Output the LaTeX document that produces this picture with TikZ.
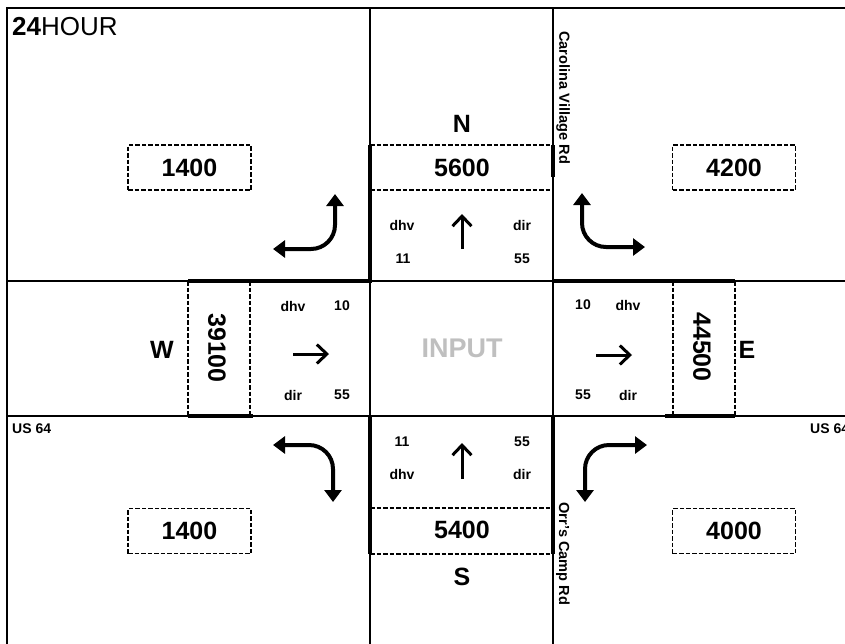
\documentclass[tikz,border=0pt]{standalone}
\usepackage{fontspec}
\setmainfont{Liberation Sans}
\usetikzlibrary{arrows.meta}

\begin{document}
\begin{tikzpicture}[
	x=1pt, y=-1pt,
	c_grid/.style={
		black,
		line width=1.2pt
	},
	c_curb/.style={
		black,
		line width=3.6pt
	},
	c_dash/.style={
		black,
		line width=1.4pt,
		dash pattern=on 4.5pt off 2pt
	},
	c_dot/.style={
		black,
		line width=2pt,
		dash pattern=on 2pt off 1.4pt
	},
	c_box/.style={
		c_dash,
		draw,
		minimum width=123pt,
		minimum height=45pt,
		font=\fontsize{25}{25}\selectfont\bfseries
	},
	c_turn/.style={
		black,
		line width=4pt,
		rounded corners=24pt,
		arrows={Triangle[width=17pt,length=12pt]-Triangle[width=17pt,length=12pt]}
	},
	c_thru/.style={
		black,
		line width=3pt,
		-{Straight Barb[length=10pt,width=19pt]}
	},
	c_big/.style={
		inner sep=0pt,
		font=\fontsize{25}{25}\selectfont\bfseries
	},
	c_text/.style={
		inner sep=0pt,
		font=\fontsize{14}{14}\selectfont\bfseries
	},
	c_road/.style={
		inner sep=0pt,
		font=\fontsize{14.6}{14.6}\selectfont\bfseries,
		rotate=-90,
		anchor=west
	}
	]
	
	\useasboundingbox (0,0) rectangle (845,643);
	\clip (0,0) rectangle (845,643);
	
	% =========================================================================
	% GRID
	% =========================================================================
	
	\draw[c_grid] (7,660) -- (7,8) -- (860,8);
	\draw[c_grid] (370,8) -- (370,660);
	\draw[c_grid] (553,8) -- (553,660);
	\draw[c_grid] (7,281) -- (860,281);
	\draw[c_grid] (7,416) -- (860,416);
	
	% =========================================================================
	% CURBS
	% =========================================================================
	
	\draw[c_curb] (188,281) -- (370,281) -- (370,145);
	\draw[c_curb] (553,145) -- (553,177);
	\draw[c_curb,line width=2.2pt] (553,177) -- (553,281);
	\draw[c_curb] (553,281) -- (735,281);
	
	\draw[c_curb] (188,416) -- (253,416);
	\draw[c_curb,line width=2.2pt] (253,416) -- (370,416);
	\draw[c_curb] (370,416) -- (370,554);
	
	\draw[c_curb,line width=2.2pt] (553,416) -- (665,416);
	\draw[c_curb] (665,416) -- (735,416);
	\draw[c_curb] (553,416) -- (553,554);
	
	% =========================================================================
	% APPROACH BOXES
	% =========================================================================
	
	% North
	\draw[c_dash] (370,145) -- (553,145);
	\draw[c_dash] (370,190) -- (553,190);
	
	% South
	\draw[c_dash] (370,508) -- (553,508);
	\draw[c_dash] (370,554) -- (553,554);
	
	% West
	\draw[c_dash] (188,281) -- (188,416);
	\draw[c_dash] (250,281) -- (250,416);
	
	% East
	\draw[c_dash] (673,281) -- (673,416);
	\draw[c_dash] (735,281) -- (735,416);
	
	% Intersection
	\draw[c_dot] (370,281) rectangle (553,416);
	
	% =========================================================================
	% CORNER VOLUMES
	% =========================================================================
	
	\foreach \x/\y/\v/\n in {189.5/167.5/1400/nw, 734/167.5/4200/ne,
		189.5/531/1400/sw, 734/531/4000/se}
	{
		\node[c_box] (vol_\n) at (\x,\y) {\v};
	}
	
	% Turn arrows
	\draw[c_turn] (335,194) -- (335,249) -- (273,249);
	\draw[c_turn] (582,193) -- (582,247) -- (645,247);
	\draw[c_turn] (273,445) -- (333,445) -- (333,502);
	\draw[c_turn] (647,445) -- (585,445) -- (585,502);
	
	% Through arrows
	\draw[c_thru] (462,249) -- (462,214);
	\draw[c_thru] (462,479) -- (462,443);
	\draw[c_thru] (293,354) -- (329,354);
	\draw[c_thru] (596,355) -- (632,355);
	
	% =========================================================================
	% LABELS
	% =========================================================================
	
	\node[anchor=base west,inner sep=0pt,font=\fontsize{26}{26}\selectfont]
	(title) at (12,35) {\textbf{24}HOUR};
	
	\node[c_big] (lbl_n) at (462,124) {N};
	\node[c_big] (lbl_s) at (462,577) {S};
	\node[c_big] (lbl_w) at (162,350) {W};
	\node[c_big] (lbl_e) at (747,350) {E};
	
	\node[c_big,text=black!25,font=\fontsize{27}{27}\selectfont\bfseries]
	(input) at (462,348) {INPUT};
	
	% Roads
	\node[c_road] (road_cv) at (563,31) {Carolina Village Rd};
	\node[c_road] (road_oc) at (563,502) {Orr's Camp Rd};
	\node[c_text,anchor=base west] (road_w) at (12,433) {US 64};
	\node[c_text,anchor=base west] (road_e) at (810,433) {US 64};
	
	% =========================================================================
	% NORTH
	% =========================================================================
	
	\node[c_big] (vol_n) at (462,168) {5600};
	\node[c_text] (n_dhv) at (402,225) {dhv};
	\node[c_text] (n_dir) at (522,225) {dir};
	\node[c_text] (n_hv) at (403,259) {11};
	\node[c_text] (n_dr) at (522,259) {55};
	
	% =========================================================================
	% SOUTH
	% =========================================================================
	
	\node[c_big] (vol_s) at (462,530) {5400};
	\node[c_text] (s_hv) at (402,442) {11};
	\node[c_text] (s_dr) at (522,442) {55};
	\node[c_text] (s_dhv) at (402,474) {dhv};
	\node[c_text] (s_dir) at (522,474) {dir};
	
	% =========================================================================
	% WEST
	% =========================================================================
	
	\node[c_big,rotate=-90] (vol_w) at (217,348) {39100};
	\node[c_text] (w_dhv) at (293,306) {dhv};
	\node[c_text] (w_hv) at (342,306) {10};
	\node[c_text] (w_dir) at (293,395) {dir};
	\node[c_text] (w_dr) at (342,395) {55};
	
	% =========================================================================
	% EAST
	% =========================================================================
	
	\node[c_big,rotate=-90] (vol_e) at (702,347) {44500};
	\node[c_text] (e_hv) at (583,305) {10};
	\node[c_text] (e_dhv) at (628,305) {dhv};
	\node[c_text] (e_dr) at (583,395) {55};
	\node[c_text] (e_dir) at (628,395) {dir};
	
\end{tikzpicture}
\end{document}
